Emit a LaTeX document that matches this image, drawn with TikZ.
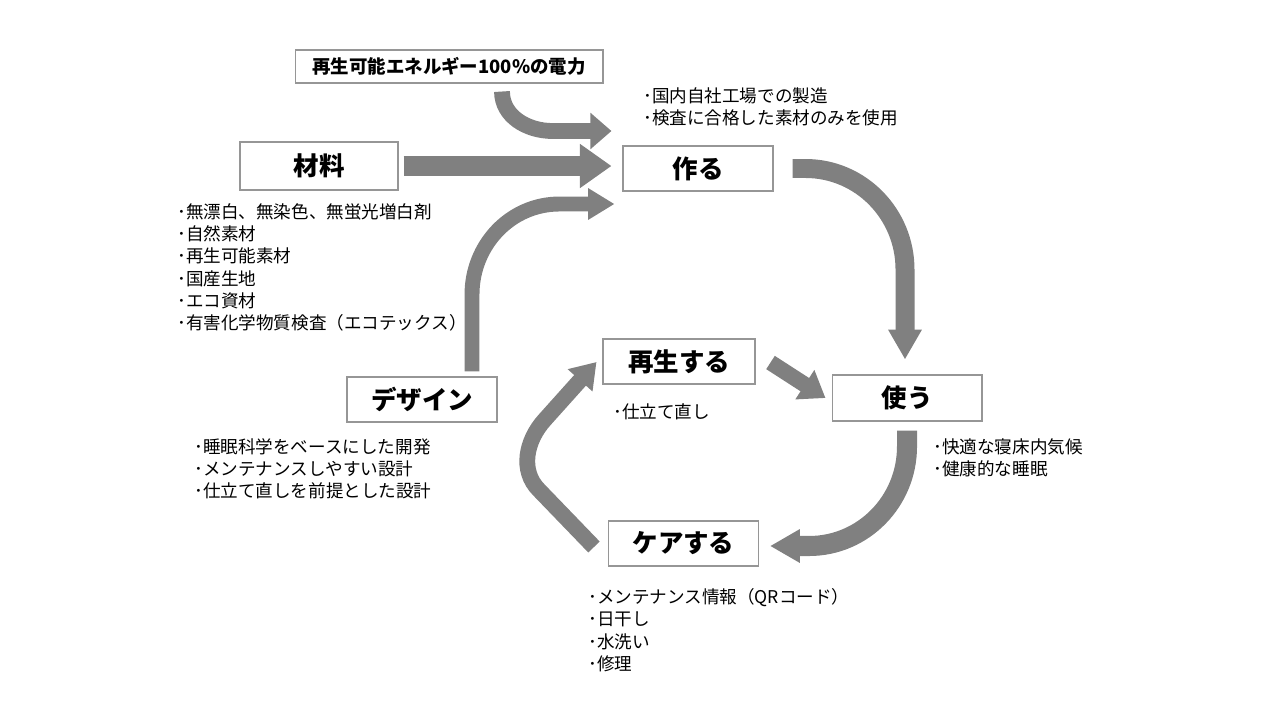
\documentclass[tikz,border=0pt]{standalone}
\usepackage{fontspec}
\setmainfont{Noto Sans CJK JP}
\usepackage{tikz}
\usetikzlibrary{calc, arrows.meta, positioning}

\definecolor{arrowgray}{RGB}{128,128,128}
\definecolor{boxgray}{RGB}{150,150,150}

\tikzset{
  stage/.style={draw=boxgray, line width=0.6pt, fill=white, inner sep=0pt,
    minimum width=3cm, minimum height=0.9cm,
    font=\fontsize{14.5}{16}\selectfont\bfseries},
  note/.style={anchor=north west, align=left, inner sep=0pt,
    font=\fontsize{10}{12.7}\selectfont},
  flow/.style={draw=arrowgray, line width=#1},
}

\begin{document}
\begin{tikzpicture}[x=0.02cm, y=0.02cm]

    \useasboundingbox (0,0) rectangle (1280,-720);

    % =================================================================
    % 1. STAGE BOXES
    % =================================================================
    \node[stage, minimum width=6.16cm, minimum height=0.66cm,
      font=\fontsize{10.5}{12}\selectfont\bfseries] (energy) at (449,-66.5) {再生可能エネルギー100\%の電力};
    \node[stage, minimum width=3.16cm, minimum height=0.96cm] (mat) at (319,-166) {材料};
    \node[stage] (make) at (698,-168.5) {作る};
    \node[stage] (design) at (422,-399.5) {デザイン};
    \node[stage, minimum width=3.04cm] (regen) at (679,-361.5) {再生する};
    \node[stage, minimum height=0.92cm] (use) at (907,-398) {使う};
    \node[stage] (care) at (683.5,-543.5) {ケアする};

    % =================================================================
    % 2. NOTES UNDER / BESIDE THE BOXES
    % =================================================================
    \node[note] (makenote) at (643,-87) {･国内自社工場での製造\\･検査に合格した素材のみを使用};
    \node[note] (matnote) at (177,-203) {･無漂白、無染色、無蛍光増白剤\\･自然素材\\･再生可能素材\\･国産生地\\･エコ資材\\･有害化学物質検査（エコテックス）};
    \node[note] (designnote) at (194,-438) {･睡眠科学をベースにした開発\\･メンテナンスしやすい設計\\･仕立て直しを前提とした設計};
    \node[note] (regennote) at (613,-403) {･仕立て直し};
    \node[note] (usenote) at (933,-438) {･快適な寝床内気候\\･健康的な睡眠};
    \node[note] (carenote) at (588,-588) {･メンテナンス情報（QRコード）\\･日干し\\･水洗い\\･修理};

    % =================================================================
    % 3. BLOCK ARROWS
    % =================================================================
    % energy -> make
    \draw[flow=9pt, -{Triangle[length=12pt, width=20pt]}]
      ($(energy.south)+(53,-8)$) to[out=-90, in=180] ($(make.west)+(-70,37.5)$) -- ($(make.west)+(-11,37.5)$);
    % material -> make
    \draw[flow=11pt, -{Triangle[length=18pt, width=24pt]}]
      ($(mat.east)+(5,0)$) -- ($(make.west)+(-11,2.5)$);
    % design -> make
    \draw[flow=8.5pt, -{Triangle[length=15pt, width=17pt]}]
      ($(design.north)+(50,5)$) -- ($(design.north)+(50,82)$) to[out=90, in=180] ($(make.west)+(-63,-35.5)$) -- ($(make.west)+(-8,-35.5)$);
    % make -> use
    \draw[flow=10.8pt, -{Triangle[length=17pt, width=18pt]}]
      ($(make.east)+(19,0)$) -- ($(make.east)+(32,0)$) to[out=0, in=90] ($(use.north)+(-2,105)$) -- ($(use.north)+(-2,15)$);
    % regenerate -> use
    \draw[flow=9pt, -{Triangle[length=14pt, width=19pt]}]
      ($(regen.east)+(15,-1)$) -- ($(use.west)+(-6,0)$);
    % use -> care
    \draw[flow=11.4pt, -{Triangle[length=17pt, width=18pt]}]
      ($(use.south)+(0,-9)$) -- ($(use.south)+(0,-25)$) to[out=-90, in=0] ($(care.east)+(50,-2.5)$) -- ($(care.east)+(11,-2.5)$);
    % care -> regenerate
    \draw[flow=9pt, -{Triangle[length=14pt, width=18pt]}]
      ($(care.west)+(-14,-3.5)$) -- ($(care.west)+(-69,53.5)$) to[out=135, in=-132] ($(regen.west)+(-58,-58.5)$) -- ($(regen.west)+(-6,-0.5)$);

\end{tikzpicture}
\end{document}
